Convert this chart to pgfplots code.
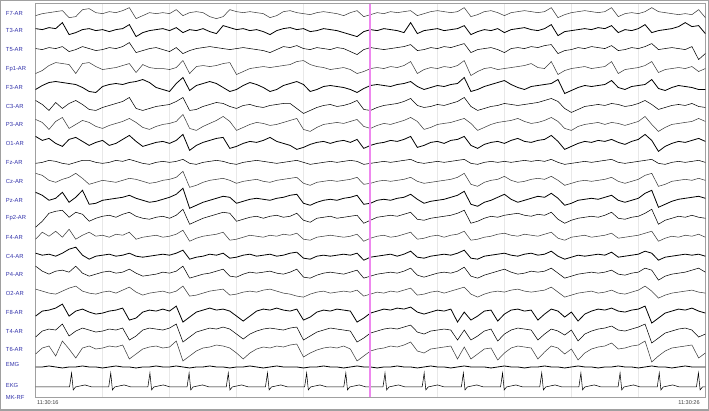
\documentclass[border=0pt]{standalone}
\usepackage{fontspec}
\setmainfont{Liberation Sans}
\usepackage{pgfplots}
\pgfplotsset{compat=1.18}
\definecolor{chlabel}{RGB}{50,50,170}
\definecolor{trace}{RGB}{60,60,60}
\definecolor{cursor}{RGB}{238,135,238}
\definecolor{frame}{RGB}{160,160,160}
\tikzset{lab/.style={anchor=west, inner sep=0pt, text=chlabel, font=\fontsize{4.4}{5}\selectfont}}

\begin{document}
\begin{tikzpicture}
\begin{axis}[
  scale only axis, width=503.25pt, height=295.5pt,
  xmin=0, xmax=10, ymin=-397, ymax=-3,
  xtick={1,...,9}, xticklabels={}, ytick=\empty,
  major tick length=0pt,
  xmajorgrids, grid style={gray!18, line width=0.5pt},
  axis line style={frame, line width=0.6pt},
  clip=false,
  cycle list={{trace, line width=0.6pt, mark=none}},
  table/row sep=\\, table/x expr=\coordindex/10,
]
% channels: values in px, positive = up, 0.1 s apart
% F7
\addplot table[y expr=\thisrow{v}-13]{v\\
-2\\0\\1\\2\\3\\-4\\-3\\4\\5\\1\\
0\\2\\1\\3\\6\\-5\\-2\\1\\0\\1\\
0\\4\\-2\\1\\2\\1\\-3\\-5\\-3\\4\\
2\\1\\2\\1\\0\\-4\\-2\\2\\3\\1\\
0\\-1\\1\\2\\1\\0\\-2\\1\\3\\-3\\
-1\\1\\0\\2\\1\\2\\3\\-2\\0\\2\\
3\\2\\1\\2\\6\\-3\\-1\\2\\3\\1\\
-2\\1\\2\\3\\2\\1\\2\\6\\-4\\-1\\
1\\2\\3\\2\\1\\2\\6\\-3\\0\\1\\
0\\2\\6\\2\\1\\0\\-1\\0\\-1\\4\\-4\\};
% T3
\addplot table[y expr=\thisrow{v}-30]{v\\
2\\1\\3\\2\\8\\-4\\-2\\1\\2\\0\\
1\\-1\\1\\2\\6\\-6\\-2\\0\\1\\2\\
0\\3\\-2\\1\\0\\2\\-1\\-3\\5\\3\\
1\\2\\0\\1\\-1\\-4\\0\\2\\3\\1\\
2\\-1\\0\\2\\1\\0\\-2\\-4\\-6\\-1\\
1\\0\\2\\1\\0\\-2\\8\\-3\\0\\1\\
2\\0\\1\\2\\5\\-4\\-1\\1\\0\\2\\
-2\\1\\2\\3\\1\\0\\2\\6\\-5\\-1\\
0\\1\\2\\1\\3\\2\\5\\-2\\1\\0\\
2\\6\\-2\\0\\1\\2\\4\\8\\4\\5\\-3\\};
% T5
\addplot table[y expr=\thisrow{v}-49]{v\\
1\\0\\2\\1\\3\\-2\\0\\3\\1\\-1\\
0\\2\\1\\3\\7\\-3\\-1\\1\\2\\0\\
-2\\2\\-4\\-1\\1\\2\\3\\2\\1\\0\\
1\\2\\1\\0\\-1\\-3\\0\\3\\2\\4\\
1\\0\\2\\1\\0\\2\\1\\-2\\-5\\0\\
2\\1\\0\\1\\2\\3\\5\\-1\\0\\2\\
1\\3\\2\\4\\6\\-3\\0\\1\\2\\0\\
-3\\1\\2\\1\\3\\2\\4\\5\\-4\\-1\\
0\\2\\1\\3\\2\\1\\4\\-1\\0\\2\\
1\\3\\6\\0\\1\\2\\1\\0\\3\\-10\\-4\\};
% Fp1
\addplot table[y expr=\thisrow{v}-69]{v\\
-4\\-1\\4\\7\\6\\5\\-4\\6\\7\\3\\
0\\1\\2\\4\\6\\-3\\5\\2\\1\\1\\
0\\2\\9\\-4\\3\\4\\3\\4\\6\\7\\
-5\\-2\\1\\2\\3\\2\\3\\4\\5\\8\\
9\\5\\3\\2\\0\\1\\2\\0\\-4\\-2\\
1\\2\\1\\3\\2\\4\\8\\-4\\0\\2\\
1\\3\\2\\4\\9\\-6\\-2\\1\\2\\0\\
1\\2\\3\\4\\6\\2\\1\\8\\-5\\-1\\
1\\2\\3\\1\\2\\3\\8\\-4\\0\\1\\
2\\4\\8\\-3\\0\\1\\2\\1\\3\\-2\\1\\};
% F3
\addplot table[y expr=\thisrow{v}-87]{v\\
-2\\2\\5\\6\\5\\4\\3\\0\\-4\\-5\\
1\\3\\4\\3\\5\\6\\8\\5\\0\\-2\\
-4\\4\\10\\-3\\2\\4\\6\\4\\0\\-4\\
-2\\2\\5\\3\\0\\-4\\-2\\2\\4\\6\\
3\\-4\\-2\\1\\2\\1\\0\\-2\\-5\\-1\\
2\\3\\2\\1\\3\\4\\6\\1\\-2\\0\\
2\\1\\3\\4\\10\\-4\\-2\\1\\3\\5\\
7\\3\\0\\-2\\1\\2\\3\\4\\8\\-6\\
-3\\0\\2\\1\\2\\3\\7\\0\\-2\\1\\
2\\3\\8\\-1\\-3\\0\\2\\1\\0\\-2\\-2\\};
% C3
\addplot table[y expr=\thisrow{v}-106]{v\\
6\\2\\-4\\4\\-2\\3\\6\\2\\-3\\-4\\
-1\\1\\3\\5\\9\\-2\\-4\\-2\\0\\1\\
2\\5\\9\\-4\\-3\\0\\2\\4\\3\\0\\
-2\\1\\2\\0\\-1\\1\\2\\3\\3\\-2\\
-7\\-4\\-1\\1\\2\\0\\1\\3\\6\\-3\\
-4\\-1\\1\\2\\3\\5\\8\\1\\-1\\0\\
2\\1\\3\\5\\9\\0\\-4\\-2\\0\\1\\
3\\2\\1\\2\\3\\4\\6\\8\\5\\-2\\
-6\\-3\\0\\1\\2\\1\\3\\2\\0\\1\\
3\\6\\2\\-3\\-1\\1\\2\\1\\3\\0\\-1\\};
% P3
\addplot table[y expr=\thisrow{v}-124]{v\\
5\\2\\-5\\3\\7\\-4\\0\\4\\2\\-2\\
-4\\-1\\1\\3\\6\\2\\-3\\-5\\-2\\0\\
1\\3\\10\\-4\\-6\\-2\\1\\4\\8\\3\\
-6\\-3\\0\\2\\1\\-1\\0\\2\\4\\6\\
-5\\-7\\-3\\0\\1\\2\\1\\3\\5\\-2\\
-4\\-1\\1\\0\\2\\4\\7\\3\\-5\\-3\\
0\\1\\2\\4\\6\\1\\-6\\-3\\0\\2\\
3\\4\\6\\3\\1\\2\\4\\7\\3\\-4\\
-6\\-2\\0\\1\\2\\0\\2\\1\\-1\\1\\
3\\8\\0\\-7\\-3\\0\\1\\2\\3\\6\\3\\};
% O1
\addplot table[y expr=\thisrow{v}-143]{v\\
7\\3\\5\\0\\-3\\4\\6\\2\\-2\\1\\
3\\-2\\0\\4\\8\\2\\-3\\-1\\1\\2\\
0\\3\\9\\-7\\-2\\1\\3\\5\\6\\-5\\
-3\\0\\2\\1\\3\\6\\2\\0\\-2\\-6\\
-4\\-1\\1\\2\\0\\2\\3\\1\\4\\-5\\
-2\\0\\1\\3\\2\\4\\7\\-4\\-2\\1\\
2\\0\\3\\4\\7\\-2\\-5\\-1\\1\\2\\
0\\3\\5\\2\\1\\3\\4\\8\\2\\-6\\
-3\\0\\2\\1\\3\\2\\4\\1\\-1\\2\\
4\\9\\3\\-8\\-3\\0\\2\\1\\3\\5\\2\\};
% Fz
\addplot table[y expr=\thisrow{v}-162]{v\\
-1\\0\\2\\1\\-1\\-2\\0\\2\\2\\0\\
-1\\0\\2\\1\\3\\1\\-1\\-2\\0\\1\\
0\\1\\3\\-1\\-2\\0\\1\\2\\1\\-1\\
-2\\0\\1\\2\\1\\0\\-1\\0\\1\\2\\
0\\-2\\-1\\0\\1\\0\\1\\2\\1\\-2\\
-1\\0\\1\\0\\1\\2\\3\\0\\-1\\0\\
1\\0\\1\\2\\3\\-1\\-2\\0\\1\\0\\
1\\0\\1\\2\\1\\2\\1\\3\\0\\-2\\
-1\\0\\1\\0\\1\\2\\3\\0\\-1\\0\\
1\\2\\3\\-1\\-2\\0\\1\\0\\1\\2\\0\\};
% Cz
\addplot table[y expr=\thisrow{v}-181]{v\\
8\\6\\1\\-1\\2\\4\\8\\3\\-3\\-1\\
1\\0\\-1\\1\\3\\2\\0\\-2\\-1\\1\\
2\\4\\10\\-6\\-4\\-1\\1\\2\\3\\1\\
-2\\0\\1\\2\\0\\-1\\1\\2\\3\\4\\
-2\\-4\\-1\\0\\1\\0\\1\\2\\4\\-3\\
-2\\0\\1\\0\\1\\2\\4\\0\\-2\\-1\\
0\\1\\2\\4\\8\\-3\\-5\\-1\\1\\2\\
5\\1\\-1\\0\\2\\3\\2\\5\\1\\-4\\
-2\\0\\1\\0\\1\\2\\4\\0\\-2\\0\\
2\\6\\8\\-5\\-3\\0\\1\\2\\1\\3\\1\\};
% Pz
\addplot table[y expr=\thisrow{v}-200]{v\\
8\\5\\0\\2\\8\\-2\\3\\10\\-4\\-3\\
0\\1\\2\\3\\5\\2\\0\\-2\\-1\\1\\
3\\6\\12\\-8\\-5\\-2\\0\\2\\4\\3\\
-3\\-1\\1\\2\\1\\0\\2\\3\\5\\6\\
-3\\-5\\-2\\0\\1\\0\\2\\3\\5\\-4\\
-3\\0\\1\\0\\2\\3\\6\\1\\-3\\-1\\
0\\1\\3\\5\\9\\-4\\-6\\-2\\0\\3\\
6\\1\\-2\\0\\2\\4\\3\\7\\2\\-5\\
-3\\0\\1\\2\\1\\3\\5\\0\\-2\\0\\
2\\7\\10\\-7\\-4\\-1\\1\\2\\3\\4\\2\\};
% Fp2
\addplot table[y expr=\thisrow{v}-218]{v\\
-9\\-3\\5\\7\\8\\1\\6\\4\\-3\\0\\
2\\3\\1\\4\\6\\2\\0\\-1\\1\\2\\
0\\3\\9\\-6\\-3\\0\\2\\4\\6\\5\\
-3\\-1\\1\\2\\0\\2\\3\\1\\2\\5\\
-2\\-4\\0\\1\\2\\0\\1\\2\\3\\-5\\
-2\\1\\2\\3\\2\\4\\6\\-1\\-2\\0\\
1\\2\\3\\5\\8\\-5\\-3\\0\\2\\1\\
3\\4\\5\\3\\2\\4\\3\\6\\-1\\-5\\
-2\\0\\1\\2\\1\\3\\6\\0\\-1\\1\\
2\\5\\9\\-6\\-2\\0\\2\\1\\3\\1\\0\\};
% F4
\addplot table[y expr=\thisrow{v}-237]{v\\
-2\\5\\1\\6\\0\\8\\-2\\2\\5\\1\\
2\\0\\3\\2\\5\\-2\\0\\1\\2\\0\\
1\\3\\7\\-4\\-1\\1\\2\\3\\5\\-3\\
-2\\0\\2\\1\\0\\2\\1\\3\\2\\4\\
-2\\-3\\0\\1\\2\\1\\0\\1\\3\\-4\\
-1\\1\\2\\0\\1\\3\\5\\-2\\-1\\1\\
2\\0\\2\\3\\6\\-3\\-2\\0\\1\\3\\
4\\2\\1\\3\\2\\1\\3\\5\\-1\\-3\\
0\\1\\2\\0\\1\\2\\4\\-1\\0\\1\\
2\\4\\6\\-4\\-1\\1\\0\\2\\1\\3\\0\\};
% C4
\addplot table[y expr=\thisrow{v}-256]{v\\
3\\1\\2\\0\\3\\7\\9\\1\\-3\\0\\
1\\2\\0\\1\\3\\0\\-1\\0\\1\\2\\
1\\3\\6\\-3\\-1\\0\\2\\1\\3\\-2\\
-1\\1\\2\\0\\1\\2\\0\\1\\3\\4\\
-2\\-3\\0\\1\\0\\1\\2\\1\\3\\-4\\
-1\\0\\1\\2\\0\\2\\5\\-1\\-2\\0\\
1\\2\\1\\3\\6\\-2\\-3\\0\\1\\2\\
3\\1\\0\\2\\3\\1\\2\\5\\0\\-3\\
-1\\1\\0\\1\\2\\1\\4\\-1\\0\\1\\
2\\5\\3\\-4\\-1\\0\\1\\2\\1\\2\\0\\};
% P4
\addplot table[y expr=\thisrow{v}-274]{v\\
8\\3\\0\\3\\4\\2\\8\\1\\-2\\0\\
2\\3\\1\\2\\5\\1\\-2\\-1\\0\\2\\
1\\3\\8\\-4\\-2\\0\\1\\3\\5\\-2\\
-3\\0\\2\\1\\2\\3\\1\\0\\2\\5\\
-3\\-4\\-1\\1\\2\\1\\0\\2\\4\\-4\\
-2\\0\\1\\2\\1\\3\\6\\-1\\-3\\-1\\
1\\2\\1\\3\\7\\-2\\-4\\-1\\1\\3\\
5\\2\\0\\1\\3\\2\\3\\6\\1\\-4\\
-2\\0\\1\\2\\1\\2\\4\\0\\-1\\1\\
2\\6\\4\\-6\\-2\\0\\1\\2\\4\\6\\2\\};
% O2
\addplot table[y expr=\thisrow{v}-293]{v\\
4\\2\\0\\-1\\2\\5\\7\\2\\0\\-1\\
1\\2\\0\\3\\6\\1\\-2\\0\\1\\2\\
0\\2\\7\\-3\\-2\\0\\2\\3\\4\\-2\\
-1\\1\\2\\1\\3\\4\\2\\0\\-1\\-3\\
-4\\-1\\1\\2\\0\\1\\2\\1\\3\\-3\\
-1\\1\\0\\2\\1\\3\\5\\-2\\-1\\1\\
2\\0\\2\\4\\6\\-1\\-4\\-1\\1\\2\\
1\\3\\4\\2\\1\\2\\3\\6\\1\\-4\\
-2\\0\\1\\2\\0\\1\\3\\0\\-1\\1\\
3\\7\\2\\-5\\-2\\0\\1\\2\\3\\1\\0\\};
% F8
\addplot table[y expr=\thisrow{v}-314]{v\\
-2\\3\\4\\6\\10\\-2\\3\\5\\2\\0\\
1\\3\\4\\6\\-6\\-4\\2\\4\\3\\5\\
3\\8\\-8\\-3\\2\\4\\6\\4\\5\\3\\
-2\\-7\\-2\\3\\5\\4\\6\\4\\3\\5\\
-6\\-3\\2\\4\\3\\5\\4\\3\\-8\\-4\\
1\\3\\5\\4\\6\\5\\7\\2\\0\\2\\
4\\3\\5\\-8\\2\\-6\\-2\\3\\4\\-7\\
0\\4\\5\\3\\4\\-6\\0\\5\\3\\-3\\
2\\-7\\0\\3\\5\\4\\6\\3\\2\\4\\
5\\8\\-9\\-4\\1\\3\\5\\4\\6\\3\\1\\};
% T4
\addplot table[y expr=\thisrow{v}-333]{v\\
-4\\2\\4\\3\\9\\-3\\2\\5\\3\\1\\
2\\4\\3\\5\\-7\\-3\\3\\5\\4\\3\\
5\\9\\-9\\-4\\1\\3\\5\\4\\6\\4\\
-1\\-6\\-1\\2\\4\\5\\4\\3\\5\\6\\
-7\\-3\\1\\3\\5\\4\\3\\2\\-9\\-5\\
0\\2\\4\\5\\4\\6\\8\\1\\-1\\2\\
3\\4\\3\\-7\\3\\-7\\-3\\2\\4\\-8\\
-1\\3\\5\\4\\3\\-7\\-1\\4\\2\\-2\\
3\\-8\\-1\\2\\4\\5\\7\\3\\2\\4\\
6\\9\\-10\\-5\\0\\2\\4\\5\\3\\-4\\-1\\};
% T6
\addplot table[y expr=\thisrow{v}-351]{v\\
-3\\3\\5\\-5\\10\\2\\-7\\3\\5\\2\\
3\\5\\4\\6\\-8\\-3\\2\\4\\5\\3\\
4\\10\\-10\\-5\\0\\3\\4\\6\\5\\3\\
-2\\-8\\-2\\2\\4\\3\\5\\4\\6\\7\\
-6\\-2\\1\\3\\4\\3\\5\\2\\-10\\-5\\
0\\2\\3\\5\\4\\6\\9\\0\\-2\\2\\
3\\4\\5\\-8\\4\\-8\\-3\\2\\3\\-9\\
-2\\3\\5\\4\\3\\-8\\-1\\5\\3\\-3\\
2\\-9\\-2\\2\\4\\5\\8\\2\\3\\5\\
6\\10\\-11\\-5\\0\\3\\4\\5\\6\\-7\\-2\\};
% EMG
\addplot table[y expr=\thisrow{v}-367]{v\\
0\\0\\1\\0\\-1\\0\\0\\1\\0\\0\\
-1\\0\\1\\0\\0\\-1\\0\\0\\1\\0\\
0\\1\\0\\-1\\0\\0\\1\\0\\0\\-1\\
0\\0\\1\\0\\-1\\0\\1\\0\\0\\0\\
-1\\0\\0\\1\\0\\0\\-1\\0\\1\\0\\
0\\-1\\0\\0\\1\\0\\0\\-1\\0\\1\\
0\\0\\-1\\0\\1\\0\\0\\0\\-1\\0\\
1\\0\\0\\-1\\0\\0\\1\\0\\0\\-1\\
0\\1\\0\\0\\-1\\0\\0\\1\\0\\0\\
-1\\0\\1\\0\\0\\-1\\0\\1\\0\\0\\0\\};
% EKG
\addplot coordinates {(0,-387)
(0.507,-387)(0.537,-373)(0.562,-390)(0.597,-387)(0.737,-385)(0.837,-387)
(1.092,-387)(1.122,-373)(1.147,-390)(1.182,-387)(1.322,-385)(1.422,-387)
(1.677,-387)(1.707,-373)(1.732,-390)(1.767,-387)(1.907,-385)(2.007,-387)
(2.262,-387)(2.292,-373)(2.317,-390)(2.352,-387)(2.492,-385)(2.592,-387)
(2.847,-387)(2.877,-373)(2.902,-390)(2.937,-387)(3.077,-385)(3.177,-387)
(3.432,-387)(3.462,-373)(3.487,-390)(3.522,-387)(3.662,-385)(3.762,-387)
(4.017,-387)(4.047,-373)(4.072,-390)(4.107,-387)(4.247,-385)(4.347,-387)
(4.602,-387)(4.632,-373)(4.657,-390)(4.692,-387)(4.832,-385)(4.932,-387)
(5.187,-387)(5.217,-373)(5.242,-390)(5.277,-387)(5.417,-385)(5.517,-387)
(5.772,-387)(5.802,-373)(5.827,-390)(5.862,-387)(6.002,-385)(6.102,-387)
(6.357,-387)(6.387,-373)(6.412,-390)(6.447,-387)(6.587,-385)(6.687,-387)
(6.942,-387)(6.972,-373)(6.997,-390)(7.032,-387)(7.172,-385)(7.272,-387)
(7.527,-387)(7.557,-373)(7.582,-390)(7.617,-387)(7.757,-385)(7.857,-387)
(8.112,-387)(8.142,-373)(8.167,-390)(8.202,-387)(8.342,-385)(8.442,-387)
(8.697,-387)(8.727,-373)(8.752,-390)(8.787,-387)(8.927,-385)(9.027,-387)
(9.282,-387)(9.312,-373)(9.337,-390)(9.372,-387)(9.512,-385)(9.612,-387)
(9.867,-387)(9.897,-373)(9.922,-390)(9.957,-387)(10,-387)};

% cursor and frame
\draw[cursor, line width=1.5pt] (axis cs:5,-3) -- (axis cs:5,-397);
\draw[frame, line width=1pt] (axis cs:-0.5216,0) rectangle (axis cs:10.045,-410);

% channel labels
\node[lab] at (axis cs:-0.447,-13) {F7-AR};
\node[lab] at (axis cs:-0.447,-30) {T3-AR};
\node[lab] at (axis cs:-0.447,-49) {T5-AR};
\node[lab] at (axis cs:-0.447,-69) {Fp1-AR};
\node[lab] at (axis cs:-0.447,-87) {F3-AR};
\node[lab] at (axis cs:-0.447,-106) {C3-AR};
\node[lab] at (axis cs:-0.447,-124) {P3-AR};
\node[lab] at (axis cs:-0.447,-143) {O1-AR};
\node[lab] at (axis cs:-0.447,-162) {Fz-AR};
\node[lab] at (axis cs:-0.447,-181) {Cz-AR};
\node[lab] at (axis cs:-0.447,-200) {Pz-AR};
\node[lab] at (axis cs:-0.447,-218) {Fp2-AR};
\node[lab] at (axis cs:-0.447,-237) {F4-AR};
\node[lab] at (axis cs:-0.447,-256) {C4-AR};
\node[lab] at (axis cs:-0.447,-274) {P4-AR};
\node[lab] at (axis cs:-0.447,-293) {O2-AR};
\node[lab] at (axis cs:-0.447,-312) {F8-AR};
\node[lab] at (axis cs:-0.447,-331) {T4-AR};
\node[lab] at (axis cs:-0.447,-349) {T6-AR};
\node[lab] at (axis cs:-0.447,-365) {EMG};
\node[lab] at (axis cs:-0.447,-386) {EKG};
\node[lab] at (axis cs:-0.447,-397.5) {MK-RF};

% time labels
\node[anchor=west, inner sep=0pt, text=black!75, font=\fontsize{4.2}{5}\selectfont] at (axis cs:0.02,-403) {11:30:16};
\node[anchor=east, inner sep=0pt, text=black!75, font=\fontsize{4.2}{5}\selectfont] at (axis cs:9.92,-403) {11:30:26};
\end{axis}
\end{tikzpicture}
\end{document}
